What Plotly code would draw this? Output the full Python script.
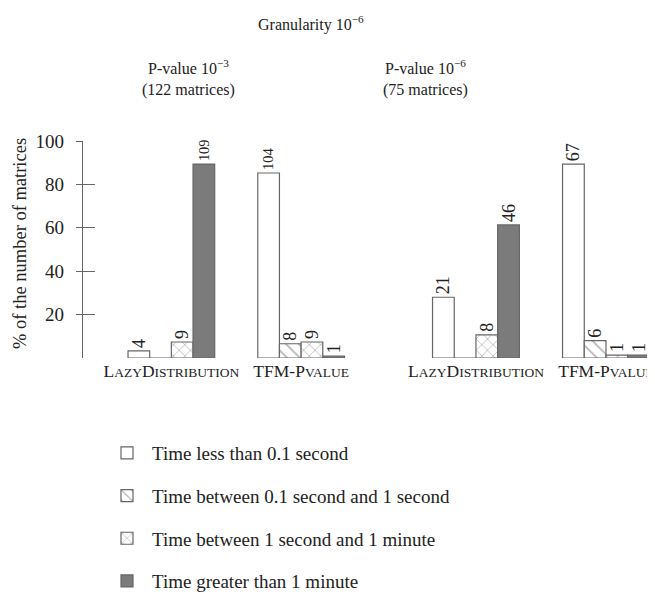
import plotly.graph_objects as go

# page body adds an 8px offset; figure coordinates below are screen minus 8
W, H = 647, 586
OFF = 8

methods = ["L<span style='font-size:13.5px'>AZY</span>D<span style='font-size:13.5px'>ISTRIBUTION</span>",
           "TFM-P<span style='font-size:13.5px'>VALUE</span>"]
series_names = ["Time less than 0.1 second",
                "Time between 0.1 second and 1 second",
                "Time between 1 second and 1 minute",
                "Time greater than 1 minute"]

# counts per series for [LazyDistribution, TFM-Pvalue]
panel1_total = 122
panel1_counts = [[4, 104], [0, 8], [9, 9], [109, 1]]
panel2_total = 75
panel2_counts = [[21, 67], [0, 6], [8, 1], [46, 1]]

panel_titles = ["P-value 10<sup>−3</sup><br>(122 matrices)",
                "P-value 10<sup>−6</sup><br>(75 matrices)"]
main_title = "Granularity 10<sup>−6</sup>"
y_title = "% of the number of matrices"
y_ticks = [20, 40, 60, 80, 100]

FONT = "Liberation Serif"
LINE = "#666666"
styles = [
    dict(color="white", pattern=None),
    dict(color="white", pattern=dict(shape="\\", fgcolor="#3a3a3a", bgcolor="white", size=9, solidity=0.14)),
    dict(color="white", pattern=dict(shape="x", fgcolor="#3a3a3a", bgcolor="white", size=8, solidity=0.14)),
    dict(color="#7b7b7b", pattern=None),
]


def px(x):
    return (x - OFF) / W


def py(y):
    return 1 - (y - OFF) / H


fig = go.Figure()
panels = [(panel1_counts, panel1_total, "x", "y"), (panel2_counts, panel2_total, "x2", "y")]
for p, (counts, total, xa, ya) in enumerate(panels):
    for i, name in enumerate(series_names):
        vals = [c / total * 100 for c in counts[i]]
        txt = [str(c) if c > 0 else "" for c in counts[i]]
        marker = dict(color=styles[i]["color"], line=dict(color=LINE, width=1.2))
        if styles[i]["pattern"]:
            marker["pattern"] = styles[i]["pattern"]
        fig.add_trace(go.Bar(
            x=methods, y=vals, name=name, text=txt, textposition="outside",
            textangle=-90, textfont=dict(family=FONT, size=18, color="#222"),
            cliponaxis=False, marker=marker, xaxis=xa, yaxis=ya,
            legendgroup=f"g{i}", showlegend=(p == 0),
        ))

y0 = py(358)
y1 = py(141)
fig.update_layout(
    width=W, height=H, autosize=False,
    margin=dict(l=0, r=0, t=0, b=0, autoexpand=False),
    paper_bgcolor="white", plot_bgcolor="white",
    font=dict(family=FONT, size=16, color="#222"),
    barmode="group", bargap=0.332, bargroupgap=0,
    xaxis=dict(domain=[px(83), px(366)], range=[-0.681, 1.5], type="category",
               showline=False, showgrid=False, ticks="", zeroline=False,
               tickfont=dict(size=17.5, family=FONT)),
    xaxis2=dict(domain=[px(380), 1.0], range=[-0.738, 1.377], type="category",
                showline=False, showgrid=False, ticks="", zeroline=False,
                tickfont=dict(size=17.5, family=FONT), anchor="y"),
    yaxis=dict(domain=[y0, y1], range=[0, 100], tickvals=y_ticks,
               showline=True, linecolor=LINE, linewidth=1.2,
               ticks="outside", ticklen=6, tickcolor=LINE, tickwidth=1.2,
               ticklabelstandoff=8, showgrid=False, zeroline=False,
               tickfont=dict(size=19, family=FONT)),
    yaxis3=dict(domain=[y0, y1], range=[0, 100], tickvals=y_ticks, overlaying="y",
                anchor="x", showticklabels=False, ticks="inside", ticklen=12,
                tickcolor=LINE, tickwidth=1.2, showgrid=False, zeroline=False,
                showline=False),
    legend=dict(x=px(102), y=py(434), xanchor="left", yanchor="top",
                font=dict(size=19, family=FONT), tracegroupgap=15,
                bgcolor="rgba(0,0,0,0)", itemwidth=40),
    showlegend=True,
)
# helper trace so the overlaying tick axis is drawn
fig.add_trace(go.Scatter(x=[None], y=[None], xaxis="x", yaxis="y3", showlegend=False, hoverinfo="skip"))

ann = dict(xref="paper", yref="paper", showarrow=False, xanchor="center", yanchor="middle")
fig.add_annotation(text=main_title, x=px(311), y=py(23), font=dict(size=16, family=FONT), **ann)
fig.add_annotation(text=panel_titles[0], x=px(188), y=py(78), font=dict(size=16, family=FONT), **ann)
fig.add_annotation(text=panel_titles[1], x=px(426), y=py(78), font=dict(size=16, family=FONT), **ann)
fig.add_annotation(text=y_title, x=px(20), y=py(244), textangle=-90,
                   font=dict(size=18.5, family=FONT), **ann)

fig.write_html("out.html")
